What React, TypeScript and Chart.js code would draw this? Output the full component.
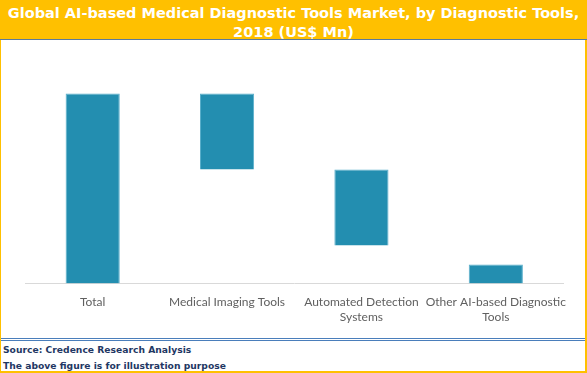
import React, { useEffect, useRef } from "react";
import { Chart, registerables } from "chart.js";
Chart.register(...registerables);

const categories: string[][] = [
  ["Total"],
  ["Medical Imaging Tools"],
  ["Automated Detection", "Systems"],
  ["Other AI-based Diagnostic", "Tools"],
];
const barStarts = [0, 60, 20, 0];
const barEnds = [100, 100, 60, 10];
const titleLines = [
  "Global AI-based Medical Diagnostic Tools Market, by Diagnostic Tools,",
  "2018 (US$ Mn)",
];
const footerLines = [
  "Source: Credence Research Analysis",
  "The above figure is for illustration purpose",
];

const ORANGE = "#FFC000";

export default function App() {
  const ref = useRef<HTMLCanvasElement | null>(null);
  useEffect(() => {
    if (!ref.current) return;
    const chart = new Chart(ref.current, {
      type: "bar",
      data: {
        labels: categories,
        datasets: [
          {
            data: barStarts.map((s, i) => [s, barEnds[i]]) as any,
            backgroundColor: "#238EB0",
            borderColor: "#5AAFCB",
            borderWidth: 1,
            barPercentage: 0.403,
            categoryPercentage: 1,
          },
        ],
      },
      options: {
        animation: false,
        responsive: false,
        layout: { padding: { left: 25.5, right: 24, top: 14.5, bottom: 0 } },
        plugins: { legend: { display: false }, tooltip: { enabled: false } },
        scales: {
          x: {
            grid: { display: false },
            border: { display: true, color: "#D9D9D9", width: 1 },
            ticks: {
              color: "#606060",
              font: { family: "Lato", size: 12, lineHeight: 1.25 },
              padding: 3,
              maxRotation: 0,
              autoSkip: false,
            },
            afterFit: (s: any) => {
              s.height = 52.5;
            },
          },
          y: { display: false, min: 0, max: 120 },
        },
      },
    });
    return () => chart.destroy();
  }, []);

  return (
    <div
      style={{
        position: "fixed",
        left: 0,
        top: 0,
        width: 587,
        height: 373,
        background: "#FFFFFF",
        overflow: "hidden",
      }}
    >
      <div
        style={{
          position: "absolute",
          left: 0,
          top: 0,
          width: 587,
          height: 39,
          background: ORANGE,
          color: "#FFFFFF",
          fontFamily: "'DejaVu Sans'",
          fontWeight: "bold",
          fontSize: 14.5,
          lineHeight: "19px",
          textAlign: "center",
          paddingTop: 4,
          boxSizing: "border-box",
          whiteSpace: "nowrap",
        }}
      >
        <div>{titleLines[0]}</div>
        <div>{titleLines[1]}</div>
      </div>
      <div style={{ position: "absolute", left: 0, top: 39, width: 587, height: 1, background: "#5B7A9C" }} />
      <canvas
        ref={ref}
        width={587}
        height={295}
        style={{ position: "absolute", left: 0, top: 41, width: 587, height: 295 }}
      />
      <div style={{ position: "absolute", left: 0, top: 338, width: 587, height: 1, background: "#4A7EBB" }} />
      <div style={{ position: "absolute", left: 0, top: 340, width: 587, height: 1, background: "#4A7EBB" }} />
      <div
        style={{
          position: "absolute",
          left: 3,
          top: 342,
          color: "#1F3864",
          fontFamily: "'DejaVu Sans'",
          fontWeight: "bold",
          fontSize: 9.2,
          lineHeight: "16px",
          whiteSpace: "nowrap",
        }}
      >
        <div>{footerLines[0]}</div>
        <div>{footerLines[1]}</div>
      </div>
      <div style={{ position: "absolute", left: 0, top: 40, width: 1, height: 333, background: ORANGE }} />
      <div style={{ position: "absolute", left: 585, top: 40, width: 2, height: 333, background: ORANGE }} />
      <div style={{ position: "absolute", left: 0, top: 371, width: 587, height: 2, background: ORANGE }} />
    </div>
  );
}
